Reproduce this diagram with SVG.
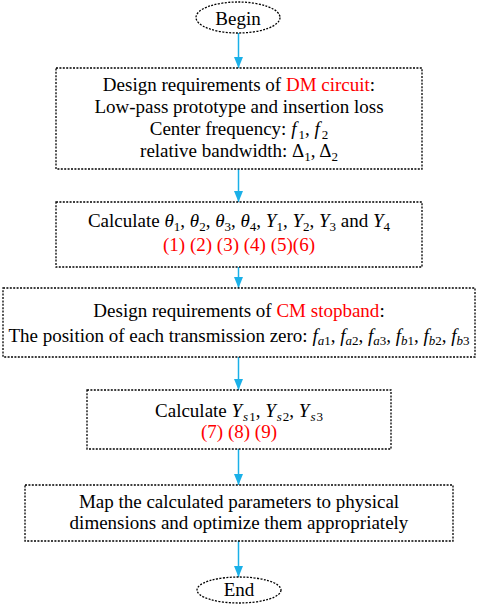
<svg xmlns="http://www.w3.org/2000/svg" width="477" height="610" viewBox="0 0 477 610">
<style>
.box{fill:#fff;stroke:#000;stroke-width:1.3;stroke-dasharray:2 1.4}
.t{font-family:"Liberation Serif","Times New Roman",serif;font-size:19px;fill:#000;text-anchor:middle}
.r{fill:#f00}
.i{font-style:italic}
.s{font-size:13px}
.conn line{stroke:#1ab0e8;stroke-width:1.5}
</style>
<defs>
<marker id="ah" markerUnits="userSpaceOnUse" markerWidth="12" markerHeight="10" refX="11" refY="4.5" orient="auto">
<path d="M0,0 L11,4.5 L0,9 z" fill="#1ab0e8"/>
</marker>
</defs>
<rect width="477" height="610" fill="#fff"/>
<g id="connectors" class="conn">
<line x1="238.5" y1="33" x2="238.5" y2="68" marker-end="url(#ah)"/>
<line x1="238.5" y1="169" x2="238.5" y2="202" marker-end="url(#ah)"/>
<line x1="238.5" y1="267" x2="238.5" y2="288" marker-end="url(#ah)"/>
<line x1="238.5" y1="357" x2="238.5" y2="390" marker-end="url(#ah)"/>
<line x1="238.5" y1="449" x2="238.5" y2="485" marker-end="url(#ah)"/>
<line x1="238.5" y1="541" x2="238.5" y2="577" marker-end="url(#ah)"/>
</g>
<g id="begin">
<ellipse class="box" cx="238" cy="17.5" rx="42" ry="15.5"/>
<text class="t" x="238" y="25">Begin</text>
</g>
<g id="dm">
<rect class="box" x="56" y="68" width="366" height="101"/>
<text class="t" x="239" y="91">Design requirements of <tspan class="r">DM circuit</tspan>:</text>
<text class="t" x="239" y="113">Low-pass prototype and insertion loss</text>
<text class="t" x="239" y="135">Center frequency: <tspan class="i">f</tspan><tspan class="s" dx="2" dy="4">1</tspan><tspan dy="-4">, </tspan><tspan class="i">f</tspan><tspan class="s" dx="2" dy="4">2</tspan></text>
<text class="t" x="239" y="157">relative bandwidth: Δ<tspan class="s" dy="4">1</tspan><tspan dy="-4">, Δ</tspan><tspan class="s" dy="4">2</tspan></text>
</g>
<g id="calc1">
<rect class="box" x="56" y="202" width="366" height="65"/>
<text class="t" x="239" y="227">Calculate <tspan class="i">θ</tspan><tspan class="s" dy="4">1</tspan><tspan dy="-4">, </tspan><tspan class="i">θ</tspan><tspan class="s" dy="4">2</tspan><tspan dy="-4">, </tspan><tspan class="i">θ</tspan><tspan class="s" dy="4">3</tspan><tspan dy="-4">, </tspan><tspan class="i">θ</tspan><tspan class="s" dy="4">4</tspan><tspan dy="-4">, </tspan><tspan class="i">Y</tspan><tspan class="s" dy="4">1</tspan><tspan dy="-4">, </tspan><tspan class="i">Y</tspan><tspan class="s" dy="4">2</tspan><tspan dy="-4">, </tspan><tspan class="i">Y</tspan><tspan class="s" dy="4">3</tspan><tspan dy="-4"> and </tspan><tspan class="i">Y</tspan><tspan class="s" dy="4">4</tspan></text>
<text class="t r" x="239" y="251">(1) (2) (3) (4) (5)(6)</text>
</g>
<g id="cm">
<rect class="box" x="3" y="288" width="472" height="69"/>
<text class="t" x="239" y="317">Design requirements of <tspan class="r">CM stopband</tspan>:</text>
<text class="t" x="239" y="342">The position of each transmission zero: <tspan class="i">f</tspan><tspan class="s i" dy="3">a</tspan><tspan class="s">1</tspan><tspan dy="-3">, </tspan><tspan class="i">f</tspan><tspan class="s i" dy="3">a</tspan><tspan class="s">2</tspan><tspan dy="-3">, </tspan><tspan class="i">f</tspan><tspan class="s i" dy="3">a</tspan><tspan class="s">3</tspan><tspan dy="-3">, </tspan><tspan class="i">f</tspan><tspan class="s i" dy="3">b</tspan><tspan class="s">1</tspan><tspan dy="-3">, </tspan><tspan class="i">f</tspan><tspan class="s i" dy="3">b</tspan><tspan class="s">2</tspan><tspan dy="-3">, </tspan><tspan class="i">f</tspan><tspan class="s i" dy="3">b</tspan><tspan class="s">3</tspan></text>
</g>
<g id="calc2">
<rect class="box" x="87" y="390" width="304" height="59"/>
<text class="t" x="239" y="417">Calculate <tspan class="i">Y</tspan><tspan class="s i" dx="1" dy="4">s</tspan><tspan class="s" dx="1">1</tspan><tspan dy="-4">, </tspan><tspan class="i">Y</tspan><tspan class="s i" dx="1" dy="4">s</tspan><tspan class="s" dx="1">2</tspan><tspan dy="-4">, </tspan><tspan class="i">Y</tspan><tspan class="s i" dx="1" dy="4">s</tspan><tspan class="s" dx="1">3</tspan></text>
<text class="t r" x="239" y="438">(7) (8) (9)</text>
</g>
<g id="map">
<rect class="box" x="25" y="485" width="428" height="56"/>
<text class="t" x="239" y="508">Map the calculated parameters to physical</text>
<text class="t" x="239" y="529">dimensions and optimize them appropriately</text>
</g>
<g id="end">
<ellipse class="box" cx="239" cy="590" rx="42" ry="13"/>
<text class="t" x="239" y="596">End</text>
</g>
</svg>
